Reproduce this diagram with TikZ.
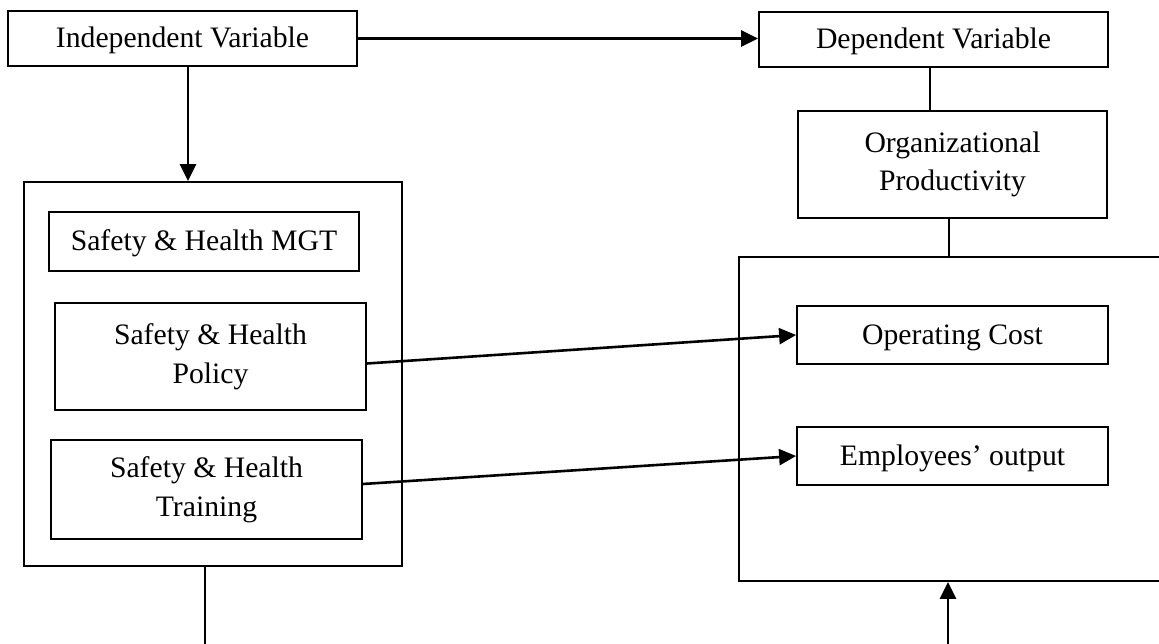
\documentclass[tikz,border=0pt]{standalone}
\usepackage{fontspec}
\setmainfont{Liberation Serif}
\usetikzlibrary{arrows.meta}
\begin{document}
\begin{tikzpicture}[x=1pt,y=-1pt,
  base/.style={draw, line width=1.8pt, rectangle, inner sep=0pt, align=center,
    font=\fontsize{29.7}{38.5}\selectfont},
  box/.style={base, text height=18pt, text depth=0pt},
  twobox/.style={base},
  frame/.style={draw, line width=1.8pt, rectangle, inner sep=0pt},
  arr/.style={line width=2.6pt, -{Triangle[length=17pt,width=16pt]}},
  link/.style={line width=1.6pt}]
\clip (0,0) rectangle (1159,644);
\fill[white] (0,0) rectangle (1159,644);
% containers
\node[frame, minimum width=378pt, minimum height=384pt] (LB) at (213,374) {};
\node[frame, minimum width=431pt, minimum height=324pt] (RB) at (954.5,419) {};
% nodes
\node[box, minimum width=349pt, minimum height=55pt] (IV) at (182.5,38.5) {Independent Variable};
\node[box, minimum width=349pt, minimum height=55pt] (DV) at (933.5,39.5) {Dependent Variable};
\node[twobox, minimum width=309pt, minimum height=107pt] (OP) at (952.5,164.5) {Organizational\\Productivity};
\node[box, minimum width=311pt, minimum height=58pt] (OC) at (952.5,335) {Operating Cost};
\node[box, minimum width=311pt, minimum height=58pt] (EO) at (952.5,456) {Employees’ output};
\node[box, minimum width=310pt, minimum height=59pt] (MGT) at (204,241.5) {Safety \& Health MGT};
\node[twobox, minimum width=311pt, minimum height=107pt] (POL) at (210.5,356.5) {Safety \& Health\\Policy};
\node[twobox, minimum width=311pt, minimum height=99pt] (TRN) at (206.5,489.5) {Safety \& Health\\Training};
% free ends
\coordinate (botL) at (205,650);
\coordinate (botR) at (948,650);
% connectors
\draw[arr] (IV.east) -- (IV.east -| DV.west);
\draw[arr] ([xshift=5.5pt]IV.south) -- ([xshift=5.5pt]IV.south |- LB.north);
\draw[link] ([xshift=-3.5pt]DV.south) -- ([xshift=-3.5pt]DV.south |- OP.north);
\draw[link] ([xshift=-3.5pt]OP.south) -- ([xshift=-3.5pt]OP.south |- RB.north);
\draw[arr] ([yshift=-7pt]POL.east) -- (OC.west);
\draw[arr] ([yshift=5.5pt]TRN.east) -- (EO.west);
\draw[link] (LB.south -| botL) -- (botL);
\draw[arr] (botR) -- (botR |- RB.south);
\end{tikzpicture}
\end{document}
